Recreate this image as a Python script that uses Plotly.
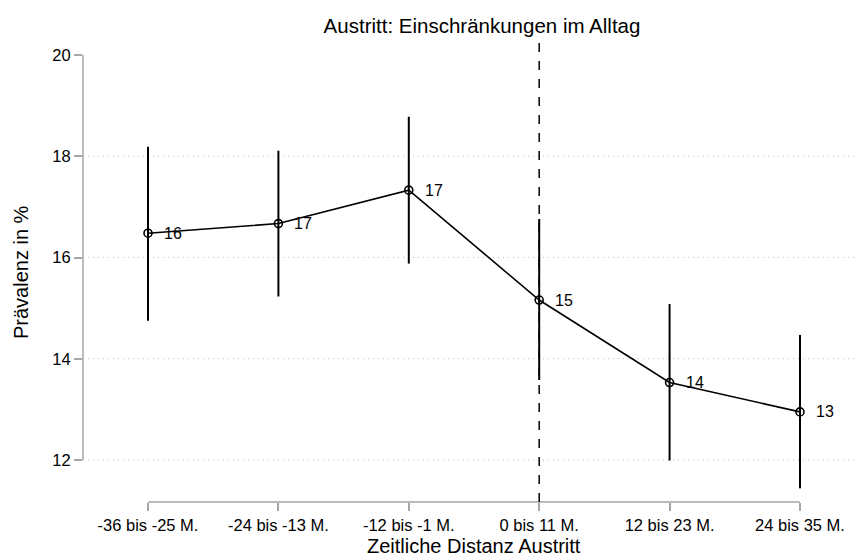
import plotly.graph_objects as go

categories = ["-36 bis -25 M.", "-24 bis -13 M.", "-12 bis -1 M.", "0 bis 11 M.", "12 bis 23 M.", "24 bis 35 M."]
prevalence = [16.48, 16.67, 17.33, 15.16, 13.53, 12.95]
ci_upper = [18.19, 18.11, 18.78, 16.76, 15.08, 14.47]
ci_lower = [14.75, 15.23, 15.88, 13.58, 11.99, 11.44]
y_ticks = [12, 14, 16, 18, 20]
event_index = 3  # "0 bis 11 M."

FONT = "Liberation Sans, Arial, sans-serif"
GRAY = "#a6a6a6"

# the page body adds an 8px margin, so the figure is sized to fit the rest of the window
W, H = 856, 550

x = list(range(len(categories)))
err_plus = [u - p for u, p in zip(ci_upper, prevalence)]
err_minus = [p - l for p, l in zip(prevalence, ci_lower)]

fig = go.Figure()

# confidence intervals as vertical spikes
fig.add_trace(go.Scatter(
    x=x, y=prevalence, mode="none",
    error_y=dict(type="data", symmetric=False, array=err_plus, arrayminus=err_minus,
                 thickness=2, width=0, color="black"),
    showlegend=False, hoverinfo="skip"))

fig.add_trace(go.Scatter(
    x=x, y=prevalence, mode="lines+markers",
    line=dict(color="black", width=1.6),
    marker=dict(symbol="circle-open", size=8, color="black", line=dict(width=1.6)),
    showlegend=False))

# gridlines (dotted) except top
shapes = []
for t in y_ticks[:-1]:
    shapes.append(dict(type="line", xref="paper", x0=0, x1=1, yref="y", y0=t, y1=t,
                       line=dict(color="#bdbdbd", width=1, dash="1px,4px"), layer="below"))
# y axis line spanning tick range
shapes.append(dict(type="line", xref="paper", x0=0, x1=0, yref="y", y0=y_ticks[0], y1=y_ticks[-1],
                   line=dict(color=GRAY, width=1.5)))
# x axis line spanning categories
shapes.append(dict(type="line", xref="x", x0=0, x1=len(categories) - 1, yref="paper", y0=0, y1=0,
                   line=dict(color=GRAY, width=1.5)))
# vertical dashed reference line
shapes.append(dict(type="line", xref="x", x0=event_index, x1=event_index, yref="paper", y0=0, y1=1,
                   line=dict(color="black", width=1.5, dash="dash")))

annotations = []
for xi, v in zip(x, prevalence):
    annotations.append(dict(x=xi, y=v, xref="x", yref="y", text=f"{v:.0f}", showarrow=False,
                            xanchor="left", yanchor="middle", xshift=14,
                            font=dict(family=FONT, size=16, color="black")))
# axis titles
annotations.append(dict(text="Zeitliche Distanz Austritt", xref="paper", yref="paper", x=0.5, y=0,
                        xanchor="center", yanchor="middle", yshift=-44, showarrow=False,
                        font=dict(family=FONT, size=20, color="black")))
annotations.append(dict(text="Prävalenz in %", xref="paper", yref="paper", x=0, y=0.5,
                        xanchor="center", yanchor="middle", xshift=-62, textangle=-90, showarrow=False,
                        font=dict(family=FONT, size=20, color="black")))

fig.update_layout(
    width=W, height=H,
    margin=dict(l=75, r=0, t=34, b=56, autoexpand=False),
    paper_bgcolor="white", plot_bgcolor="white",
    font=dict(family=FONT, color="black"),
    title=dict(text="Austritt: Einschränkungen im Alltag", x=474 / W, xanchor="center",
               y=1 - 18 / H, yanchor="middle", yref="container",
               font=dict(family=FONT, size=20.5, color="black")),
    shapes=shapes,
    annotations=annotations,
    xaxis=dict(range=[-0.4985, 5.491], tickmode="array", tickvals=x, ticktext=categories,
               showgrid=False, zeroline=False, showline=False, automargin=False,
               ticks="outside", ticklen=8, tickcolor=GRAY, tickwidth=1.5,
               tickfont=dict(family=FONT, size=16.5, color="black")),
    yaxis=dict(range=[11.170, 20.257], tickmode="array", tickvals=y_ticks,
               showgrid=False, zeroline=False, showline=False, automargin=False,
               ticks="outside", ticklen=8, tickcolor=GRAY, tickwidth=1.5,
               tickfont=dict(family=FONT, size=16.5, color="black")),
)

fig.write_html("out.html")
